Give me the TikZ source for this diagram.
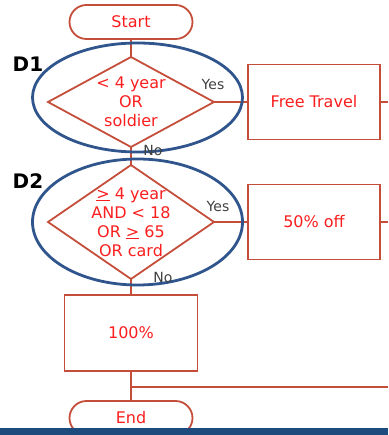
\documentclass[tikz,border=0pt]{standalone}
\usepackage{fontspec}
\setmainfont{DejaVu Sans}
\usepackage{xcolor}
\usepackage{tikz}
\usetikzlibrary{shapes.geometric,positioning}

\definecolor{shapered}{RGB}{196,78,58}
\definecolor{txtred}{RGB}{250,30,30}
\definecolor{ringblue}{RGB}{47,85,140}
\definecolor{barblue}{RGB}{30,75,125}
\definecolor{yngray}{RGB}{64,64,64}

\begin{document}
\begin{tikzpicture}[x=1pt, y=-1pt,
  term/.style={draw=shapered, line width=1.8pt, rounded corners=17pt, minimum width=123pt, minimum height=34pt, inner sep=0pt, outer sep=0pt, text=txtred, font=\fontsize{16}{19}\selectfont},
  proc/.style={draw=shapered, line width=1.8pt, minimum width=132pt, minimum height=75pt, inner sep=0pt, outer sep=0pt, text=txtred, font=\fontsize{16}{19}\selectfont},
  dec/.style={diamond, draw=shapered, line width=1.8pt, minimum width=166pt, inner sep=0pt, outer sep=0pt},
  cond/.style={text=txtred, align=center, inner sep=0pt, font=\fontsize{16}{19}\selectfont},
  ring/.style={ellipse, draw=ringblue, line width=2.8pt, minimum width=210pt, inner sep=0pt},
  yn/.style={text=yngray, inner sep=0pt, font=\fontsize{14}{15}\selectfont},
  tag/.style={inner sep=0pt, font=\fontsize{20}{21}\selectfont\bfseries},
  link/.style={draw=shapered, line width=1.8pt}]
\useasboundingbox (0,0) rectangle (388,435);
\coordinate (edge) at (388,0);
% flow
\node[term] (start) at (131,22) {Start};
\node[dec, minimum height=90pt, below=18pt of start, label={[cond]center:< 4 year\\OR\\soldier}] (d1) {};
\node[proc, right=34pt of d1] (free) {Free Travel};
\node[dec, minimum height=114pt, below=18pt of d1, label={[cond]center:\underline{>} 4 year\\AND < 18\\OR \underline{>} 65\\OR card}] (d2) {};
\node[proc, right=34pt of d2] (half) {50\% off};
\node[proc, minimum width=133pt, minimum height=76pt, below=16pt of d2] (full) {100\%};
\node[term, below=30pt of full] (end) {End};
\coordinate (join) at (131,387);
\draw[link] (start) -- (d1);
\draw[link] (d1) -- (free);
\draw[link] (free) -- (free.east -| edge);
\draw[link] (d1) -- (d2);
\draw[link] (d2) -- (half);
\draw[link] (half) -- (half.east -| edge);
\draw[link] (d2) -- (full);
\draw[link] (full) -- (end);
\draw[link, line width=2.3pt] (join) -- (join -| edge);
% decision rings
\node[ring, minimum height=109pt] (r1) at (137.5,97.5) {};
\node[ring, minimum height=126pt] (r2) at (137.5,222) {};
\node[yn] (yes1) at (213,84) {Yes};
\node[yn] (no1) at (153,150) {No};
\node[yn] (yes2) at (218,206) {Yes};
\node[yn] (no2) at (163,277) {No};
\node[tag] (t1) at (28,64) {D1};
\node[tag] (t2) at (28,181) {D2};
\fill[barblue] (0,428) rectangle (388,435);
\end{tikzpicture}
\end{document}
